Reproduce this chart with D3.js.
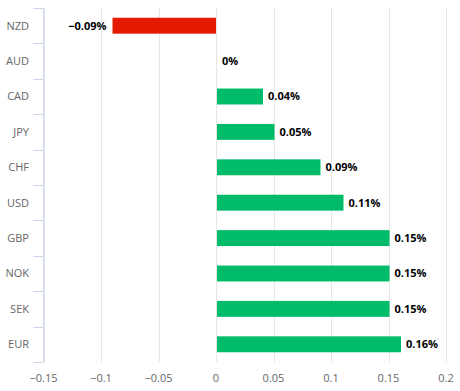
<!DOCTYPE html>
<html>
<head>
<meta charset="utf-8">
<script src="https://cdn.jsdelivr.net/npm/d3@7"></script>
<style>
  body { margin: 0; background: #fff; }
  svg text { font-family: "Open Sans", "Noto Sans", sans-serif; }
</style>
</head>
<body>
<div id="chart"></div>
<script>
// currency change, percent
const currencies = ["NZD", "AUD", "CAD", "JPY", "CHF", "USD", "GBP", "NOK", "SEK", "EUR"];
const changes = [-0.09, 0, 0.04, 0.05, 0.09, 0.11, 0.15, 0.15, 0.15, 0.16];
const xTicks = [-0.15, -0.1, -0.05, 0, 0.05, 0.1, 0.15, 0.2];

const width = 460, height = 391;
const margin = { top: 8, right: 14, bottom: 29, left: 43.5 };

const svg = d3.select("#chart").append("svg")
    .attr("width", width)
    .attr("height", height);

const x = d3.scaleLinear()
    .domain([-0.15, 0.2])
    .range([margin.left, width - margin.right]);

const y = d3.scaleBand()
    .domain(currencies)
    .range([margin.top, height - margin.bottom])
    .paddingInner(0.55)
    .paddingOuter(0.275);

// band edges for the category ticks
const yEdges = d3.scaleBand()
    .domain(currencies)
    .range([margin.top, height - margin.bottom]);

// grid
svg.append("g")
    .selectAll("line")
    .data(xTicks)
    .enter().append("line")
    .attr("x1", d => Math.round(x(d)) + 0.5)
    .attr("x2", d => Math.round(x(d)) + 0.5)
    .attr("y1", margin.top)
    .attr("y2", height - margin.bottom)
    .attr("stroke", "#e6e6e6")
    .attr("stroke-width", 1);

// x labels
svg.append("g")
    .selectAll("text")
    .data(xTicks)
    .enter().append("text")
    .attr("x", d => x(d))
    .attr("y", height - 9)
    .attr("text-anchor", "middle")
    .attr("font-size", 11)
    .attr("fill", "#666")
    .text(d => d3.format("")(d).replace("-", "\u2212"));

// y axis line + ticks
const yAxis = svg.append("g");
yAxis.append("line")
    .attr("x1", margin.left).attr("x2", margin.left)
    .attr("y1", margin.top).attr("y2", height - margin.bottom)
    .attr("stroke", "#ccd6eb");

const edges = currencies.map(c => yEdges(c)).concat([height - margin.bottom]);
yAxis.selectAll(".tick")
    .data(edges)
    .enter().append("line")
    .attr("class", "tick")
    .attr("x1", margin.left - 10).attr("x2", margin.left)
    .attr("y1", d => Math.round(d) + 0.5).attr("y2", d => Math.round(d) + 0.5)
    .attr("stroke", "#ccd6eb");

yAxis.selectAll("text")
    .data(currencies)
    .enter().append("text")
    .attr("x", 29)
    .attr("y", d => yEdges(d) + yEdges.bandwidth() / 2)
    .attr("dy", "0.35em")
    .attr("text-anchor", "end")
    .attr("font-size", 11)
    .attr("fill", "#666")
    .text(d => d);

// bars
const data = currencies.map((c, i) => ({ name: c, value: changes[i] }));

svg.append("g")
    .selectAll("rect")
    .data(data)
    .enter().append("rect")
    .attr("x", d => x(Math.min(0, d.value)) + (d.value >= 0 ? 1 : 0))
    .attr("y", d => y(d.name))
    .attr("width", d => Math.abs(x(d.value) - x(0)))
    .attr("height", y.bandwidth())
    .attr("fill", d => d.value < 0 ? "#e41b00" : "#00bc6a");

// data labels
svg.append("g")
    .selectAll("text")
    .data(data)
    .enter().append("text")
    .attr("x", d => d.value < 0 ? x(d.value) - 6 : x(d.value) + 6)
    .attr("y", d => y(d.name) + y.bandwidth() / 2)
    .attr("dy", "0.35em")
    .attr("text-anchor", d => d.value < 0 ? "end" : "start")
    .attr("font-size", 11)
    .attr("font-weight", "bold")
    .attr("fill", "#000")
    .attr("stroke", "#fff")
    .attr("stroke-width", 2)
    .attr("paint-order", "stroke")
    .attr("stroke-linejoin", "round")
    .text(d => (d.value < 0 ? "\u2212" : "") + Math.abs(d.value) + "%");
</script>
</body>
</html>
